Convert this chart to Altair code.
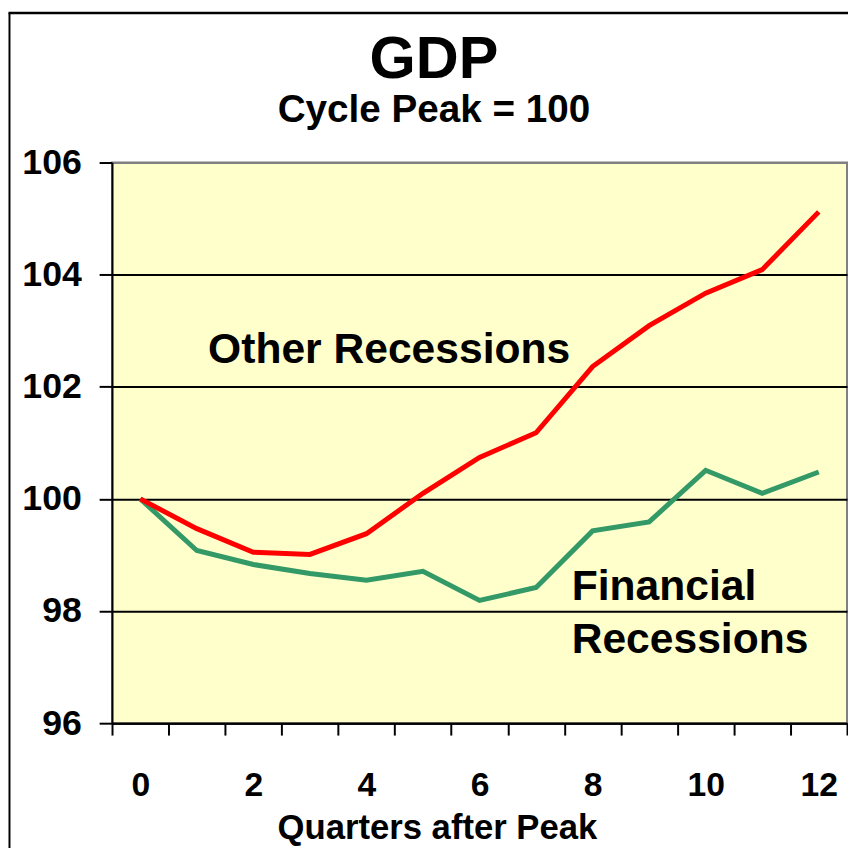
import altair as alt
import pandas as pd

# ---------------- data ----------------
quarters = list(range(13))
other_recessions = [100.0, 99.47, 99.05, 99.01, 99.38, 100.10, 100.74,
                    101.18, 102.36, 103.09, 103.67, 104.09, 105.12]
financial_recessions = [100.0, 99.08, 98.83, 98.67, 98.55, 98.71, 98.19,
                        98.42, 99.43, 99.59, 100.51, 100.10, 100.48]
series_names = ["Financial Recessions", "Other Recessions"]
series_colors = ["#339966", "#FF0000"]

y_tick_values = [96, 98, 100, 102, 104, 106]
x_tick_values = [q - 0.5 for q in range(14)]   # category boundaries

ann_text = ["Other Recessions", "Financial", "Recessions"]
ann_x = [1.2, 7.63, 7.63]
ann_y = [102.43, 98.19, 97.25]

FONT = "Liberation Sans"

rows = []
for name, vals in zip(series_names, [financial_recessions, other_recessions]):
    for q, v in zip(quarters, vals):
        rows.append({"quarter": q, "gdp": v, "series": name})
df = pd.DataFrame(rows)
ann_df = pd.DataFrame({"text": ann_text, "quarter": ann_x, "gdp": ann_y})

x_scale = alt.Scale(domain=[-0.5, 12.5], nice=False, zero=False)
y_scale = alt.Scale(domain=[96, 106], nice=False, zero=False)

x_axis = alt.Axis(
    values=x_tick_values,
    title="Quarters after Peak",
    labelExpr="((datum.value + 0.5) % 2 == 0) && datum.value < 12 ? format(datum.value + 0.5, 'd') : ''",
    labelOffset=28.54,
    labelFont=FONT, labelFontSize=34, labelFontWeight="bold", labelColor="black",
    labelPadding=34, labelFlush=False, labelOverlap=False, labelBound=False,
    tickSize=12, tickWidth=2, tickColor="black",
    domainColor="black", domainWidth=2, grid=False,
    titleFont=FONT, titleFontSize=35, titleFontWeight="bold", titleColor="black",
    titleX=328, titleY=116, titleBaseline="alphabetic", titleAlign="center",
)
y_axis = alt.Axis(
    values=y_tick_values, title=None, format="d",
    labelFont=FONT, labelFontSize=36, labelFontWeight="bold", labelColor="black",
    labelPadding=18, labelFlush=False, labelOverlap=False,
    tickSize=13, tickWidth=2, tickColor="black",
    domainColor="black", domainWidth=2,
    grid=True, gridWidth=2,
    gridColor={"condition": {"test": "datum.value >= 106", "value": "#808080"}, "value": "black"},
)

lines = alt.Chart(df).mark_line(strokeWidth=5).encode(
    x=alt.X("quarter:Q", scale=x_scale, axis=x_axis),
    y=alt.Y("gdp:Q", scale=y_scale, axis=y_axis),
    color=alt.Color("series:N", scale=alt.Scale(domain=series_names, range=series_colors), legend=None),
)

annotations = alt.Chart(ann_df).mark_text(
    font=FONT, fontSize=43, fontWeight="bold", color="black",
    align="left", baseline="alphabetic",
).encode(
    x=alt.X("quarter:Q", scale=x_scale),
    y=alt.Y("gdp:Q", scale=y_scale),
    text="text:N",
)

frame_data = alt.Data(values=[{"f": 1}])
frame_left = alt.Chart(frame_data).mark_rule(color="black", strokeWidth=2, clip=False).encode(
    x=alt.value(-103.5), y=alt.value(-151), y2=alt.value(720)
)
frame_top = alt.Chart(frame_data).mark_rule(color="black", strokeWidth=2.5, clip=False).encode(
    x=alt.value(-104.5), x2=alt.value(760), y=alt.value(-151)
)

chart = alt.layer(lines, annotations, frame_left, frame_top).properties(
    width=742, height=566,
    background="white",
    autosize=alt.AutoSizeParams(type="none"),
    padding={"left": 105, "top": 152, "right": 1, "bottom": 122},
    title=alt.TitleParams(
        text="GDP", subtitle="Cycle Peak = 100",
        font=FONT, fontSize=60, fontWeight="bold", color="black",
        subtitleFont=FONT, subtitleFontSize=39, subtitleFontWeight="bold", subtitleColor="black",
        anchor="middle", frame="group", dx=-46, offset=-120, subtitlePadding=0,
    ),
).configure_view(
    fill="#FFFFCC", stroke="#808080", strokeWidth=2
)

chart.save("out.html", embed_options={"renderer": "svg", "actions": False})
